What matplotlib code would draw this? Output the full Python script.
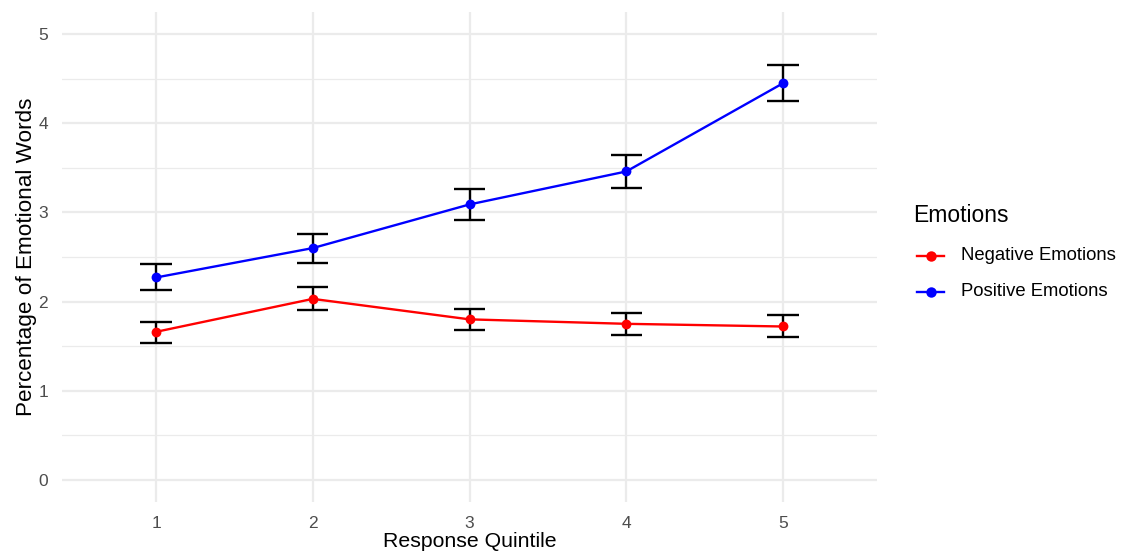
import matplotlib
matplotlib.use("Agg")
import matplotlib.pyplot as plt
from matplotlib.lines import Line2D

quintiles = [1, 2, 3, 4, 5]
neg_mean = [1.66, 2.03, 1.80, 1.75, 1.72]
neg_lo = [1.53, 1.90, 1.68, 1.62, 1.60]
neg_hi = [1.77, 2.16, 1.92, 1.87, 1.85]
pos_mean = [2.27, 2.60, 3.09, 3.46, 4.45]
pos_lo = [2.13, 2.43, 2.92, 3.27, 4.25]
pos_hi = [2.42, 2.76, 3.26, 3.64, 4.65]
series_names = ["Negative Emotions", "Positive Emotions"]
series_colors = ["#FF0000", "#0000FF"]
y_ticks = [0, 1, 2, 3, 4, 5]

plt.rcParams['font.family'] = ['Liberation Sans', 'DejaVu Sans']

W, H = 1122, 556
fig = plt.figure(figsize=(W / 100, H / 100), dpi=100)
ax = fig.add_axes([62 / W, (H - 502) / H, (877 - 62) / W, (502 - 12) / H])

ax.set_xlim(0.4, 5.6)
ax.set_ylim(-0.25, 5.25)
grid_c = "#EBEBEB"
for y in y_ticks:
    ax.axhline(y, color=grid_c, lw=1.6, zorder=0)
for y in [0.5, 1.5, 2.5, 3.5, 4.5]:
    ax.axhline(y, color=grid_c, lw=0.9, zorder=0)
for x in quintiles:
    ax.axvline(x, color=grid_c, lw=1.6, zorder=0)

for name, col, m, lo, hi in [(series_names[0], series_colors[0], neg_mean, neg_lo, neg_hi),
                             (series_names[1], series_colors[1], pos_mean, pos_lo, pos_hi)]:
    ax.plot(quintiles, m, color=col, lw=1.7, zorder=2)
    ax.vlines(quintiles, lo, hi, color="black", lw=1.7, zorder=3)
    ax.hlines(lo, [q - 0.1 for q in quintiles], [q + 0.1 for q in quintiles], color="black", lw=1.7, zorder=3)
    ax.hlines(hi, [q - 0.1 for q in quintiles], [q + 0.1 for q in quintiles], color="black", lw=1.7, zorder=3)
    ax.scatter(quintiles, m, color=col, s=50, zorder=4, linewidths=0)

ax.set_xticks(quintiles)
ax.set_xticklabels([str(q) for q in quintiles])
ax.set_yticks(y_ticks)
ax.set_yticklabels([str(y) for y in y_ticks])
ax.tick_params(axis='both', length=0, labelsize=12.5, labelcolor="#4D4D4D")
ax.tick_params(axis='x', pad=10)
ax.tick_params(axis='y', pad=10)
for s in ax.spines.values():
    s.set_visible(False)

ax.set_xlabel("Response Quintile", fontsize=15.3, labelpad=1)
ax.set_ylabel("Percentage of Emotional Words", fontsize=16.2, labelpad=1)

# legend drawn manually in figure pixel coordinates
def fx(px):
    return px / W

def fy(py):
    return 1 - py / H

fig.text(fx(913), fy(215), "Emotions", fontsize=16.5, ha="left", va="center")
for i, (name, col) in enumerate(zip(series_names, series_colors)):
    yy = fy(256 + 36 * i)
    fig.add_artist(Line2D([fx(917), fx(944)], [yy, yy], color=col, lw=1.7, transform=fig.transFigure))
    fig.add_artist(Line2D([fx(930.5)], [yy], color=col, marker='o', markersize=7.5, lw=0,
                          markeredgewidth=0, transform=fig.transFigure))
    fig.text(fx(961), yy, name, fontsize=13.3, ha="left", va="center")

fig.savefig("out.png", dpi=100, facecolor="white")
